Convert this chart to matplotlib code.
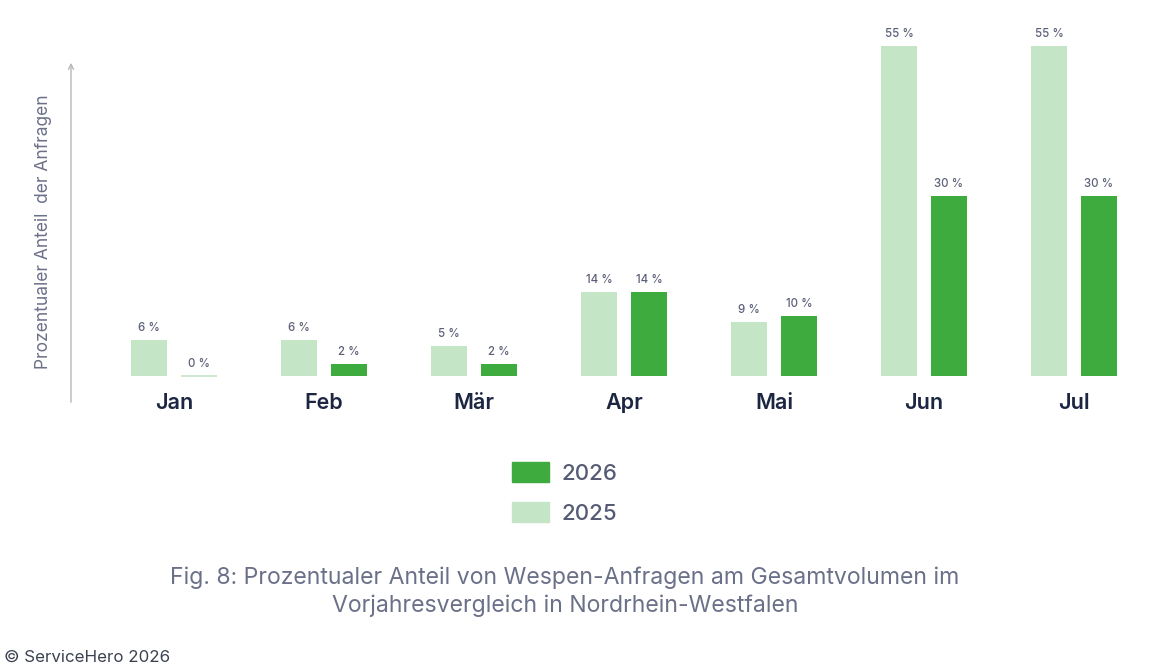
import matplotlib
matplotlib.use("Agg")
import matplotlib.pyplot as plt
import numpy as np
from matplotlib.patches import Patch

months = ["Jan", "Feb", "Mär", "Apr", "Mai", "Jun", "Jul"]
values_2025 = [6, 6, 5, 14, 9, 55, 55]
values_2026 = [0, 2, 2, 14, 10, 30, 30]
series_labels = ["2026", "2025"]
y_label = "Prozentualer Anteil  der Anfragen"
caption = "Fig. 8: Prozentualer Anteil von Wespen-Anfragen am Gesamtvolumen im\nVorjahresvergleich in Nordrhein-Westfalen"
copyright_text = "© ServiceHero 2026"

C25 = "#c5e5c7"
C26 = "#3dab3d"
NAVY = "#1c2541"
GRAY = "#5b6078"
CAP = "#6b7089"

plt.rcParams['font.family'] = ['Inter', 'DejaVu Sans']

W, H = 1149, 669
fig = plt.figure(figsize=(W / 100, H / 100), dpi=100)

px_left = 71
px_bottom = 264
ax = fig.add_axes([px_left / W, px_bottom / H, (W - px_left) / W, (H - px_bottom) / H])
x0 = 174.0
step = 150.0
ppu_y = 6.0
base = H - 376
ax.set_xlim((px_left - x0) / step, (W - x0) / step)
ax.set_ylim((px_bottom - base) / ppu_y, (H - base) / ppu_y)
ax.axis("off")

x = np.arange(len(months))
bw = 36 / step
off = 25 / step
ax.bar(x - off, values_2025, width=bw, color=C25, label=series_labels[1])
ax.bar(x + off, values_2026, width=bw, color=C26, label=series_labels[0])
for xi, v in zip(x, values_2026):
    if v == 0:
        ax.plot([xi + off - bw / 2, xi + off + bw / 2], [0, 0], color=C25, lw=1.2, solid_capstyle="butt")

for xs, vals in ((x - off, values_2025), (x + off, values_2026)):
    for xi, v in zip(xs, vals):
        ax.annotate(f"{v} %", (xi, v), xytext=(0, 4), textcoords="offset points",
                    ha="center", va="bottom", fontsize=8.3, color=GRAY, fontweight="medium")

for xi, m in zip(x, months):
    ax.text(xi, -4.45, m, ha="center", va="center", fontsize=15.5, color=NAVY, fontweight="semibold")

ax.annotate("", xy=(ax.get_xlim()[0], (H - 60 - base) / ppu_y),
            xytext=(ax.get_xlim()[0], (H - 405 - base) / ppu_y),
            arrowprops=dict(arrowstyle="->", color="#b8b8b8", lw=1, mutation_scale=9),
            annotation_clip=False)

fig.text(44 / W, 1 - 232 / H, y_label, rotation=90, ha="center", va="center",
         fontsize=12.5, color=CAP)

handles = [Patch(color=C26), Patch(color=C25)]
fig.legend(handles, series_labels, loc="center left",
           bbox_to_anchor=(512 / W, 1 - 493 / H), frameon=False, borderpad=0,
           borderaxespad=0,
           handlelength=1.67, handleheight=0.95, labelspacing=0.85,
           handletextpad=0.55, labelcolor="#555a75", prop={"size": 16, "weight": "medium"})

fig.text(565 / W, 1 - 592 / H, caption, ha="center", va="center", fontsize=16.6,
         color=CAP, linespacing=1.33)
fig.text(4 / W, 1 - 657 / H, copyright_text, ha="left", va="center", fontsize=12.2, color="#3c4152")

fig.savefig("out.png", dpi=100, facecolor="white")
